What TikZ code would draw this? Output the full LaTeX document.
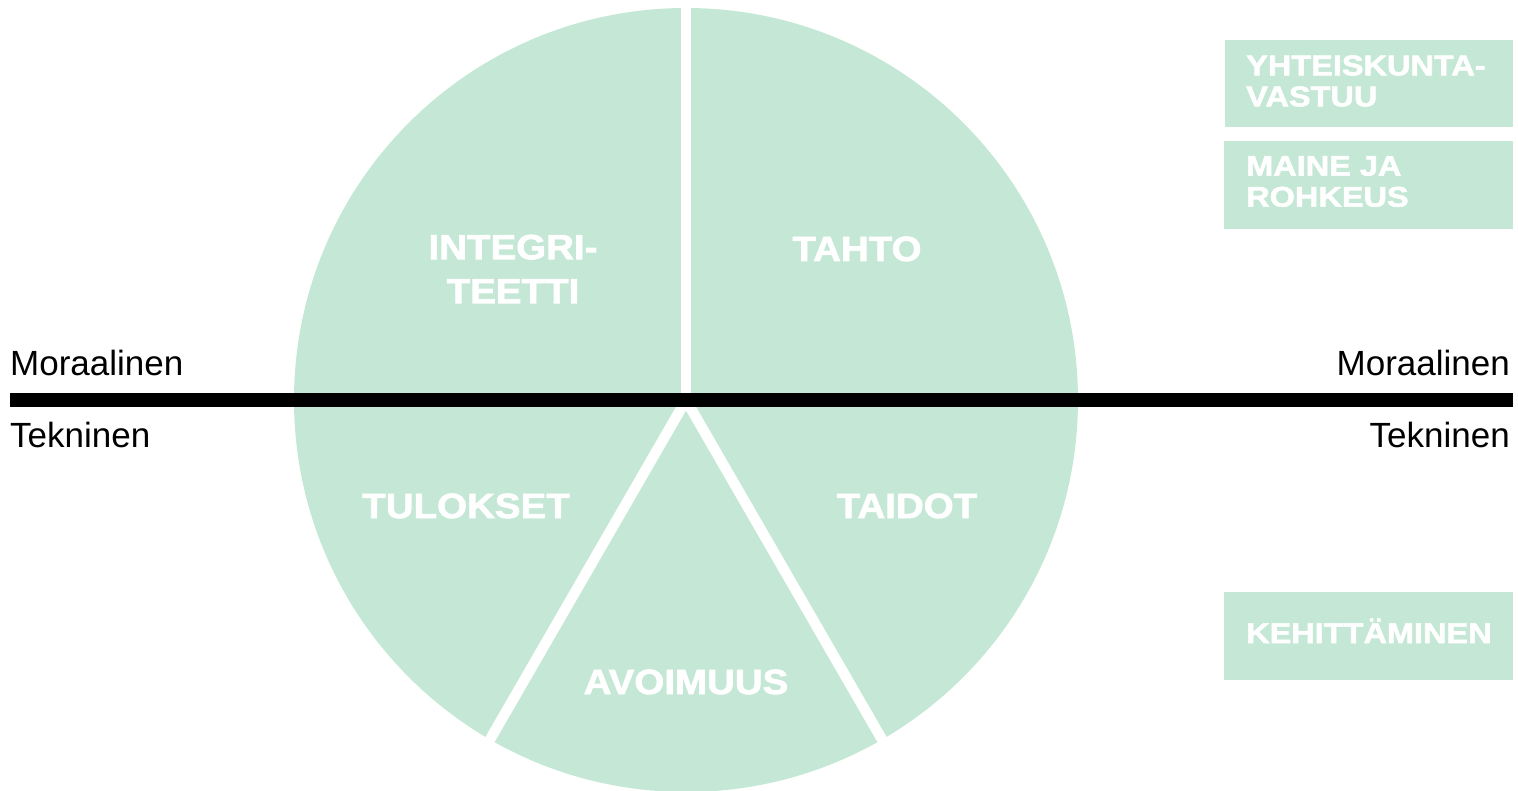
\documentclass[tikz,border=0pt]{standalone}
\usepackage{fontspec}
\setmainfont{Liberation Sans}
\newfontfamily\heavycirc{Liberation Sans Bold}[FakeStretch=1.1,FakeBold=2]
\newfontfamily\heavybox{Liberation Sans Bold}[FakeStretch=1.14,FakeBold=2]
\definecolor{mint}{RGB}{196,232,213}
\tikzset{
  circlabel/.style={text=white,inner sep=0pt,align=center,font=\heavycirc\fontsize{35}{44}\selectfont},
  boxlabel/.style={text=white,inner sep=0pt,align=left,font=\heavybox\fontsize{28.5}{31}\selectfont},
  sidelabel/.style={text=black,inner sep=0pt,font=\fontsize{35}{40}\selectfont},
  gapline/.style={white,line width=10.5pt},
  panel/.style={fill=mint,draw=none}
}
\begin{document}
\begin{tikzpicture}[x=1pt,y=-1pt]
\useasboundingbox (0,0) rectangle (1518,791);
% pie
\coordinate (c) at (686,400);
\fill[mint] (c) circle[radius=392];
\coordinate (gtop) at (686,-20);
\coordinate (gleft) at (476,763.7);
\coordinate (gright) at (896,763.7);
\draw[gapline] (c) -- (gtop);
\draw[gapline] (c) -- (gleft);
\draw[gapline] (c) -- (gright);
% bar
\coordinate (barl) at (10,400);
\coordinate (barr) at (1513,400);
\draw[black,line width=14pt] (barl) -- (barr);
% circle labels
\node[circlabel,anchor=center] (integ) at (513,269) {INTEGRI-\\TEETTI};
\node[circlabel,anchor=base] (tahto) at (857,261) {TAHTO};
\node[circlabel,anchor=base] (tulok) at (466,518) {TULOKSET};
\node[circlabel,anchor=base] (taidot) at (907,518) {TAIDOT};
\node[circlabel,anchor=base] (avoim) at (686,694) {AVOIMUUS};
% side labels
\node[sidelabel,anchor=base west] (moral) at (10,376) {Moraalinen};
\node[sidelabel,anchor=base east] (moralr) at (1510,376) {Moraalinen};
\node[sidelabel,anchor=base west] (tekl) at (10,447) {Tekninen};
\node[sidelabel,anchor=base east] (tekr) at (1510,447) {Tekninen};
% boxes
\path[panel] (1225,40) rectangle (1513,127);
\path[panel] (1224,141) rectangle (1513,229);
\path[panel] (1224,592) rectangle (1513,680);
\node[boxlabel,anchor=west] (b1) at (1246,81) {YHTEISKUNTA-\\VASTUU};
\node[boxlabel,anchor=west] (b2) at (1246,181.5) {MAINE JA\\ROHKEUS};
\node[boxlabel,anchor=base west] (b3) at (1246,643) {KEHITTÄMINEN};
\end{tikzpicture}
\end{document}
